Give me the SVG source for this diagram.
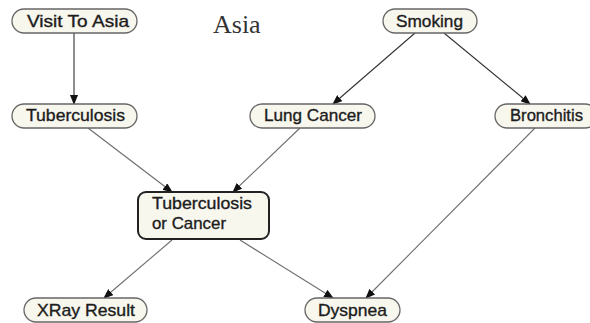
<svg xmlns="http://www.w3.org/2000/svg" width="590" height="323" viewBox="0 0 590 323">
<style>
.node rect{fill:#f8f7ee;stroke:#666;stroke-width:1.3}
.node.main rect{stroke:#222;stroke-width:2}
.node text{font-family:"Liberation Sans",Arial,sans-serif;font-size:17px;fill:#1c1c1c;stroke:#1c1c1c;stroke-width:0.35}
.edges line{stroke:#6e6e6e;stroke-width:1.1;marker-end:url(#ah)}
.edges line.dark{stroke:#333}
.title{font-family:"Liberation Serif","Times New Roman",serif;font-size:26px;fill:#333}
</style>
<defs>
<marker id="ah" markerWidth="10" markerHeight="8" refX="9" refY="4" orient="auto" markerUnits="userSpaceOnUse">
<path d="M0,0 L10,4 L0,8 Z" fill="#111"/>
</marker>
</defs>
<rect width="590" height="323" fill="#fff"/>
<text class="title" x="213" y="33">Asia</text>
<g class="edges">
<line class="dark" x1="74" y1="33" x2="74" y2="104"/>
<line class="dark" x1="415" y1="33" x2="333" y2="104"/>
<line class="dark" x1="444" y1="33" x2="530" y2="104"/>
<line x1="88" y1="128" x2="172" y2="192"/>
<line x1="300" y1="128" x2="233" y2="192"/>
<line x1="172" y1="240" x2="104" y2="298"/>
<line x1="240" y1="240" x2="333" y2="298"/>
<line x1="535" y1="128" x2="366" y2="298"/>
</g>
<g id="visit" class="node"><rect x="12" y="9" width="125" height="24" rx="12"/><text x="27" y="27" textLength="102" lengthAdjust="spacingAndGlyphs">Visit To Asia</text></g>
<g id="smoking" class="node"><rect x="383" y="9" width="94" height="24" rx="12"/><text x="396" y="27" textLength="67" lengthAdjust="spacingAndGlyphs">Smoking</text></g>
<g id="tuberculosis" class="node"><rect x="12" y="104" width="125" height="24" rx="12"/><text x="26" y="121" textLength="99" lengthAdjust="spacingAndGlyphs">Tuberculosis</text></g>
<g id="lungcancer" class="node"><rect x="250" y="104" width="125" height="24" rx="12"/><text x="264" y="121" textLength="98" lengthAdjust="spacingAndGlyphs">Lung Cancer</text></g>
<g id="bronchitis" class="node"><rect x="495" y="104" width="102" height="24" rx="12"/><text x="510" y="121" textLength="73" lengthAdjust="spacingAndGlyphs">Bronchitis</text></g>
<g id="tborca" class="node main"><rect x="138" y="192" width="131" height="47" rx="8"/><text x="152" y="209" textLength="100" lengthAdjust="spacingAndGlyphs">Tuberculosis</text><text x="152" y="229" textLength="74" lengthAdjust="spacingAndGlyphs">or Cancer</text></g>
<g id="xray" class="node"><rect x="24" y="298" width="123" height="24" rx="12"/><text x="37" y="316" textLength="98" lengthAdjust="spacingAndGlyphs">XRay Result</text></g>
<g id="dyspnea" class="node"><rect x="305" y="298" width="95" height="24" rx="12"/><text x="318" y="316" textLength="69" lengthAdjust="spacingAndGlyphs">Dyspnea</text></g>
</svg>
